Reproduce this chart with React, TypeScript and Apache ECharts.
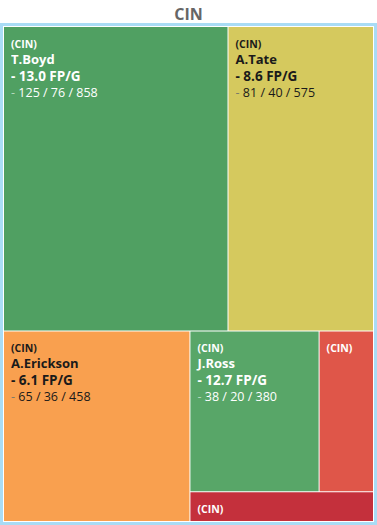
import React, { useEffect, useRef } from "react";
import * as echarts from "echarts";

const team = "CIN";
const players = ["T.Boyd", "A.Tate", "A.Erickson", "J.Ross", "", ""];
const targets = [125, 81, 65, 38, 16, 10];
const fpPerGame = ["13.0", "8.6", "6.1", "12.7", "", ""];
const statLines = ["125 / 76 / 858", "81 / 40 / 575", "65 / 36 / 458", "38 / 20 / 380", "", ""];
const fillColors = ["#50a062", "#d5c95e", "#f9a04f", "#58a668", "#df5649", "#c4303c"];
const darkText = [false, true, true, false, false, false];

const FONT = "Open Sans";

export default function App() {
  const ref = useRef<HTMLDivElement>(null);
  useEffect(() => {
    if (!ref.current) return;
    const chart = echarts.init(ref.current, null, { renderer: "svg" });
    const leaves = players.map((p, i) => ({
      name: p || `other${i}`,
      value: targets[i],
      player: p,
      fp: fpPerGame[i],
      stats: statLines[i],
      dark: darkText[i],
      itemStyle: { color: fillColors[i] },
    }));
    const rich: any = {};
    const mk = (suffix: string, main: string, dash: string) => {
      rich["t" + suffix] = { fontFamily: FONT, fontSize: 10.5, fontWeight: "bold", color: main, lineHeight: 15 };
      rich["n" + suffix] = { fontFamily: FONT, fontSize: 13, fontWeight: "bold", color: main, lineHeight: 16 };
      rich["f" + suffix] = { fontFamily: FONT, fontSize: 13.5, fontWeight: "bold", color: main, lineHeight: 17 };
      rich["d" + suffix] = { fontFamily: FONT, fontSize: 12.5, color: dash, lineHeight: 16 };
      rich["s" + suffix] = { fontFamily: FONT, fontSize: 12.5, color: main, lineHeight: 16 };
    };
    mk("L", "#ffffff", "#b5d9bd");
    mk("D", "#1a1a1a", "#7a7a6a");
    chart.setOption({
      animation: false,
      title: {
        text: team,
        left: "center",
        top: 1,
        textStyle: { fontFamily: FONT, fontSize: 16, fontWeight: "bold", color: "#666666" },
      },
      series: [
        {
          type: "treemap",
          left: 0,
          right: 0,
          top: 23,
          bottom: 0,
          roam: false,
          nodeClick: false,
          breadcrumb: { show: false },
          label: {
            show: true,
            position: "insideTopLeft",
            padding: [9, 4, 4, 7],
            formatter: (params: any) => {
              const d = params.data;
              const s = d.dark ? "D" : "L";
              if (!d.player) return `{t${s}|(${team})}`;
              return `{t${s}|(${team})}\n{n${s}|${d.player}}\n{f${s}|- ${d.fp} FP/G}\n{d${s}|-} {s${s}|${d.stats}}`;
            },
            rich,
          },
          upperLabel: { show: false },
          levels: [
            { itemStyle: { borderColor: "#a9dcf5", borderWidth: 3, gapWidth: 0 } },
            { itemStyle: { borderColor: "#ffffff", borderWidth: 1, gapWidth: 1 } },
            { itemStyle: { borderWidth: 0 } },
          ],
          data: [{ name: team, children: leaves }],
        },
      ],
    });
    return () => chart.dispose();
  }, []);
  return <div ref={ref} style={{ width: 377, height: 525, position: "absolute", left: 0, top: 0 }} />;
}
